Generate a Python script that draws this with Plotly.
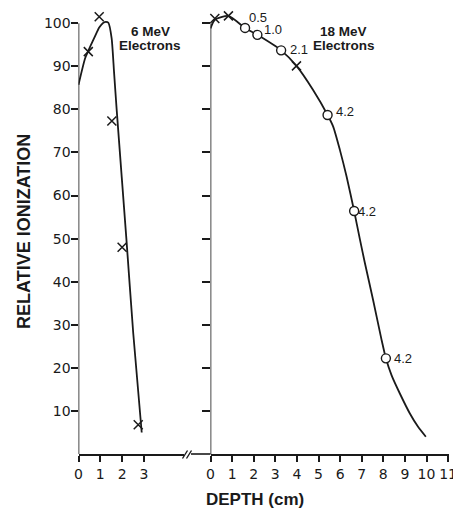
import plotly.graph_objects as go

# ---------------- data ----------------
# 6 MeV electrons (left panel)
left_curve_x = [0, 0.30, 0.45, 0.76, 0.95, 1.14, 1.26, 1.37, 1.52, 1.63, 1.75, 2.21, 2.51, 2.9]
left_curve_y = [85.7, 91.8, 93.6, 97.0, 99.0, 100.1, 100.3, 100.1, 96.5, 88.7, 80.0, 49.0, 28.1, 5.0]
left_x_pts_x = [0.45, 0.95, 1.53, 2.0, 2.74]
left_x_pts_y = [93.4, 101.5, 77.3, 48.0, 6.8]

# 18 MeV electrons (right panel)
right_curve_x = [0, 0.2, 0.83, 1.6, 2.17, 3.27, 3.98, 4.75, 5.42, 5.68, 5.99, 6.30, 6.65, 6.91, 7.14,
                 7.53, 7.92, 8.12, 8.38, 8.76, 9.23, 9.61, 9.97]
right_curve_y = [98.8, 100.8, 101.7, 98.9, 97.3, 93.7, 90.1, 84.5, 78.7, 76.0, 70.6, 64.4, 56.4, 50.0, 44.5,
                 35.7, 26.5, 22.2, 18.3, 14.1, 9.4, 6.3, 4.0]
right_x_pts_x = [0.2, 0.83, 3.98]
right_x_pts_y = [101.1, 101.7, 90.1]
circle_x = [1.6, 2.17, 3.27, 5.42, 6.65, 8.12]
circle_y = [98.9, 97.3, 93.7, 78.7, 56.4, 22.2]
circle_labels = ["0.5", "1.0", "2.1", "4.2", "4.2", "4.2"]

y_ticks = [10, 20, 30, 40, 50, 60, 70, 80, 90, 100]
left_x_ticks = [0, 1, 2, 3]
right_x_ticks = list(range(0, 12))

# ---------------- layout helpers ----------------
OFF = 8                      # page body margin
W, H = 461 - OFF, 511 - OFF
def px(x):
    return (x - OFF) / W
def py(y):
    return 1 - (y - OFF) / H

INK = "#1a1a1a"
Y_BOTTOM, Y_TOP = 454, 9          # pixel rows for y=0 and top of plot
LEFT_X0, LEFT_X1 = 78.5, 183.5    # left panel pixels
RIGHT_X0, RIGHT_X1 = 210.5, 449.0 # right panel pixels
UNIT_L, UNIT_R = 21.8, 21.6       # px per cm
UNIT_Y = 4.308                    # px per %

fig = go.Figure()

fig.add_trace(go.Scatter(x=left_curve_x, y=left_curve_y, mode="lines",
                         line=dict(color=INK, width=1.8, shape="spline", smoothing=0.6),
                         xaxis="x", yaxis="y", hoverinfo="skip"))
fig.add_trace(go.Scatter(x=left_x_pts_x, y=left_x_pts_y, mode="markers",
                         marker=dict(symbol="x-thin-open", size=9, color=INK, line=dict(color=INK, width=1.5)),
                         xaxis="x", yaxis="y", cliponaxis=False))

fig.add_trace(go.Scatter(x=right_curve_x, y=right_curve_y, mode="lines",
                         line=dict(color=INK, width=1.8, shape="spline", smoothing=0.6),
                         xaxis="x2", yaxis="y2", hoverinfo="skip"))
fig.add_trace(go.Scatter(x=right_x_pts_x, y=right_x_pts_y, mode="markers",
                         marker=dict(symbol="x-thin-open", size=9, color=INK, line=dict(color=INK, width=1.5)),
                         xaxis="x2", yaxis="y2", cliponaxis=False))
fig.add_trace(go.Scatter(x=circle_x, y=circle_y, mode="markers",
                         marker=dict(symbol="circle", size=9, color="white", line=dict(color=INK, width=1.4)),
                         xaxis="x2", yaxis="y2", cliponaxis=False))

tickfont = dict(family="DejaVu Sans", size=14, color=INK)
ydom = [py(Y_BOTTOM), py(Y_TOP)]
yrange = [0, (Y_BOTTOM - Y_TOP) / UNIT_Y]

fig.update_layout(
    width=W, height=H, margin=dict(l=0, r=0, t=0, b=0),
    paper_bgcolor="white", plot_bgcolor="white", showlegend=False,
    xaxis=dict(domain=[px(LEFT_X0), px(LEFT_X1)], range=[0, (LEFT_X1 - LEFT_X0) / UNIT_L],
               tickvals=left_x_ticks, ticks="outside", ticklen=6, tickwidth=1.5, tickcolor=INK,
               showline=True, linecolor=INK, linewidth=1.6, showgrid=False, zeroline=False,
               tickfont=tickfont, anchor="y", automargin=False),
    xaxis2=dict(domain=[px(RIGHT_X0), px(RIGHT_X1)], range=[0, (RIGHT_X1 - RIGHT_X0) / UNIT_R],
                tickvals=right_x_ticks, ticks="outside", ticklen=6, tickwidth=1.5, tickcolor=INK,
                showline=True, linecolor=INK, linewidth=1.6, showgrid=False, zeroline=False,
                tickfont=tickfont, anchor="y2", automargin=False),
    yaxis=dict(domain=ydom, range=yrange, tickvals=y_ticks, ticks="outside", ticklen=7,
               tickwidth=1.5, tickcolor=INK, showline=False, showgrid=False, zeroline=False,
               tickfont=tickfont, anchor="x", automargin=False, ticklabelstandoff=-3),
    yaxis2=dict(domain=ydom, range=yrange, tickvals=y_ticks, ticks="outside", ticklen=8,
                tickwidth=1.5, tickcolor=INK, showline=False, showgrid=False, zeroline=False,
                showticklabels=False, anchor="x2", automargin=False),
)

shapes = [
    dict(type="line", xref="x", yref="y", x0=0, x1=0, y0=0, y1=100, line=dict(color=INK, width=1.6)),
    dict(type="line", xref="x2", yref="y2", x0=0, x1=0, y0=0, y1=100, line=dict(color=INK, width=1.6)),
    # continuation of the axis after the break
    dict(type="line", xref="paper", yref="paper", x0=px(191), x1=px(RIGHT_X0), y0=py(Y_BOTTOM), y1=py(Y_BOTTOM),
         line=dict(color=INK, width=1.6)),
    # break marks //
    dict(type="line", xref="paper", yref="paper", x0=px(182.5), x1=px(187.5), y0=py(458.5), y1=py(450.5),
         line=dict(color=INK, width=1.4)),
    dict(type="line", xref="paper", yref="paper", x0=px(186.5), x1=px(191.5), y0=py(458.5), y1=py(450.5),
         line=dict(color=INK, width=1.4)),
]
fig.update_layout(shapes=shapes)

ann = []
bold13 = dict(family="Liberation Sans, Arial", size=13.5, color=INK)
ann.append(dict(text="<b>6 MeV</b>", x=px(150), y=py(31.5), xref="paper", yref="paper",
                showarrow=False, font=bold13, xanchor="center", yanchor="middle"))
ann.append(dict(text="<b>Electrons</b>", x=px(150), y=py(45.5), xref="paper", yref="paper",
                showarrow=False, font=bold13, xanchor="center", yanchor="middle"))
ann.append(dict(text="<b>18 MeV</b>", x=px(343), y=py(31.5), xref="paper", yref="paper",
                showarrow=False, font=bold13, xanchor="center", yanchor="middle"))
ann.append(dict(text="<b>Electrons</b>", x=px(344), y=py(45.5), xref="paper", yref="paper",
                showarrow=False, font=bold13, xanchor="center", yanchor="middle"))
ann.append(dict(text="<b>RELATIVE IONIZATION</b>", x=px(24.5), y=py(231.5), xref="paper", yref="paper",
                showarrow=False, textangle=-90, xanchor="center", yanchor="middle",
                font=dict(family="Liberation Sans, Arial", size=18, color=INK)))
ann.append(dict(text="<b>DEPTH (cm)</b>", x=px(254.5), y=py(499), xref="paper", yref="paper",
                showarrow=False, xanchor="center", yanchor="middle",
                font=dict(family="Liberation Sans, Arial", size=17, color=INK)))

label_shifts = [(2, 10), (5, 5), (6.5, 1), (6.5, 3), (2, 0), (6, 0)]
for (cx, cy, lab, (dx, dy)) in zip(circle_x, circle_y, circle_labels, label_shifts):
    ann.append(dict(text=lab, x=cx, y=cy, xref="x2", yref="y2", showarrow=False,
                    xanchor="left", yanchor="middle", xshift=dx, yshift=dy,
                    font=dict(family="Liberation Sans, Arial", size=13, color=INK)))
fig.update_layout(annotations=ann)

fig.write_html("out.html")
